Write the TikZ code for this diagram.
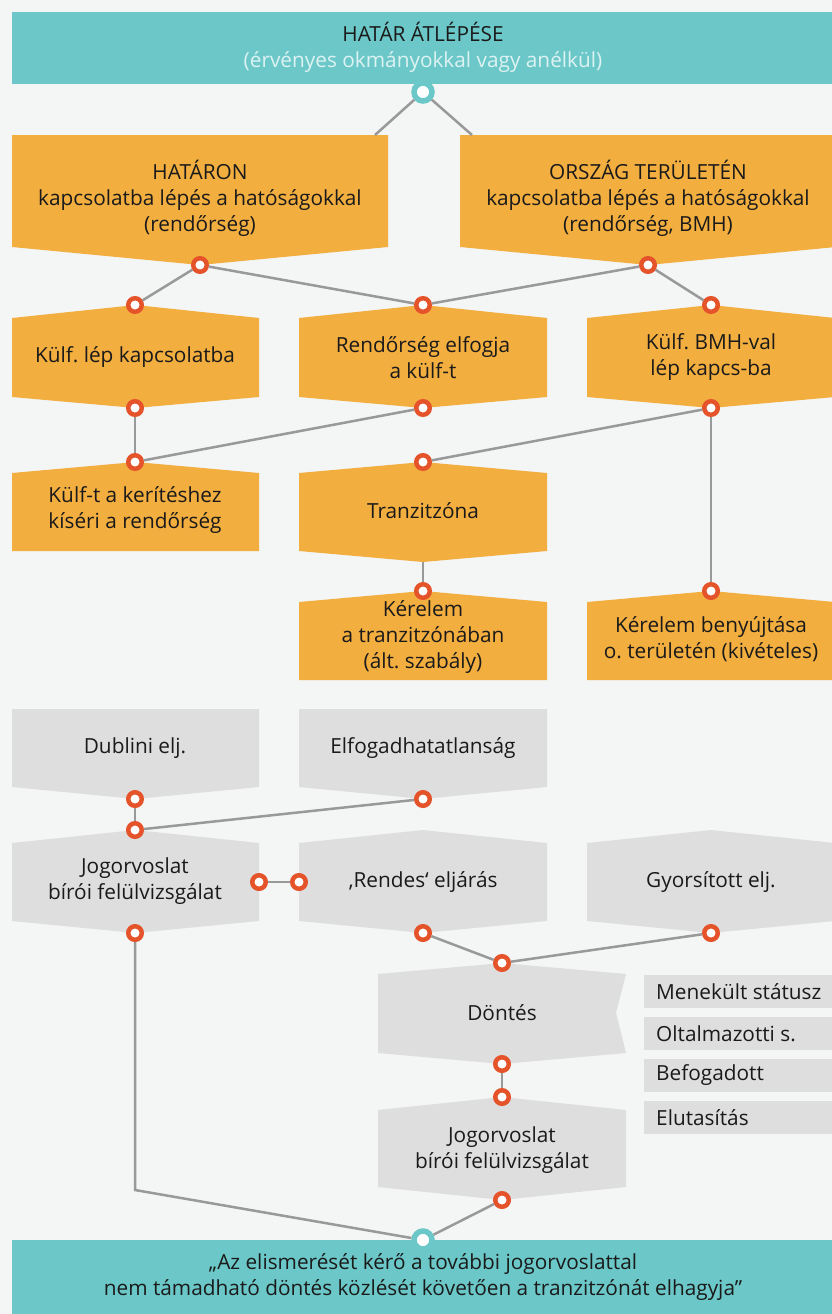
\documentclass[tikz,border=0pt]{standalone}
\usepackage{fontspec}
\setmainfont{Open Sans}
\frenchspacing
\definecolor{bgc}{HTML}{F4F5F5}
\definecolor{tealc}{HTML}{6CC8C8}
\definecolor{orc}{HTML}{F3AE40}
\definecolor{grc}{HTML}{DEDEDE}
\definecolor{dotc}{HTML}{E5532B}
\definecolor{linec}{HTML}{999999}
\definecolor{txtc}{HTML}{1A1A1A}
\definecolor{palec}{HTML}{DDF2F2}
\newcommand\pbox[7]{% color, L, R, top sides, peak rise, bottom sides, bottom drop
  \fill[#1] (#2,#4) -- ({(#2+#3)/2},#4-#5) -- (#3,#4) -- (#3,#6) -- ({(#2+#3)/2},#6+#7) -- (#2,#6) -- cycle;}
\begin{document}
\begin{tikzpicture}[x=1pt,y=-1pt,
  txt/.style={align=center, text=txtc, inner sep=0pt, font=\fontsize{20.8}{26}\selectfont},
  ltxt/.style={text=txtc, inner sep=0pt, font=\fontsize{20.8}{26}\selectfont, anchor=west},
  dot/.style={circle, draw=dotc, line width=4.5pt, fill=white, minimum size=13.5pt, inner sep=0pt},
  tdot/.style={circle, draw=tealc, line width=5.5pt, fill=white, minimum size=18pt, inner sep=0pt},
  conn/.style={draw=linec, line width=2.5pt}]
\useasboundingbox (0,0) rectangle (832,1314);
\fill[bgc] (0,0) rectangle (832,1314);
% banners
\fill[tealc] (12,12) rectangle (832,84);
\fill[tealc] (12,1240) rectangle (832,1314);
% orange boxes
\pbox{orc}{12}{388}{135}{0}{247}{18}
\pbox{orc}{460}{836}{135}{0}{247}{18}
\pbox{orc}{12}{259}{318}{13}{397}{11}
\pbox{orc}{299}{547}{318}{13}{397}{11}
\pbox{orc}{587}{835}{318}{13}{397}{11}
\pbox{orc}{12}{259}{473}{11}{551}{0}
\pbox{orc}{299}{547}{473}{11}{551}{11}
\pbox{orc}{299}{547}{602}{11}{680}{0}
\pbox{orc}{587}{835}{602}{11}{680}{0}
% gray boxes
\pbox{grc}{12}{259}{709}{0}{787}{12}
\pbox{grc}{299}{547}{709}{0}{787}{12}
\pbox{grc}{12}{259}{843}{13}{921}{12}
\pbox{grc}{299}{547}{843}{13}{921}{12}
\pbox{grc}{587}{835}{843}{13}{921}{12}
\fill[grc] (378,974) -- (502,963) -- (626,974) -- (616,1013) -- (626,1053) -- (502,1064) -- (378,1053) -- cycle;
\pbox{grc}{378}{626}{1110}{13}{1187}{13}
\fill[grc] (644,975) rectangle (832,1008);
\fill[grc] (644,1017) rectangle (832,1050);
\fill[grc] (644,1059) rectangle (832,1092);
\fill[grc] (644,1101) rectangle (832,1134);
% texts
\node[txt] (tt) at (423,47.5) {HATÁR ÁTLÉPÉSE\\\textcolor{palec}{(érvényes okmányokkal vagy anélkül)}};
\node[txt] (n1) at (200,198) {HATÁRON\\kapcsolatba lépés a hatóságokkal\\(rendőrség)};
\node[txt] (n2) at (648,198) {ORSZÁG TERÜLETÉN\\kapcsolatba lépés a hatóságokkal\\(rendőrség, BMH)};
\node[txt] (n3) at (135,357) {Külf. lép kapcsolatba};
\node[txt] (n4) at (423,357.5) {Rendőrség elfogja\\a külf-t};
\node[txt] (n5) at (711,357.5) {Külf. BMH-val\\lép kapcs-ba};
\node[txt] (n6) at (135,510.5) {Külf-t a kerítéshez\\kíséri a rendőrség};
\node[txt] (n7) at (423,511) {Tranzitzóna};
\node[txt] (n8) at (423,637) {Kérelem\\a tranzitzónában\\(ált. szabály)};
\node[txt] (n9) at (711,639.5) {Kérelem benyújtása\\o. területén (kivételes)};
\node[txt] (g1) at (135,748) {Dublini elj.};
\node[txt] (g2) at (423,748) {Elfogadhatatlanság};
\node[txt] (g3) at (135,881.5) {Jogorvoslat\\bírói felülvizsgálat};
\node[txt] (g4) at (423,882) {‚Rendes‘ eljárás};
\node[txt] (g5) at (711,882) {Gyorsított elj.};
\node[txt] (g6) at (502,1013) {Döntés};
\node[txt] (g7) at (502,1150.5) {Jogorvoslat\\bírói felülvizsgálat};
\node[ltxt] (l1) at (656,991.5) {Menekült státusz};
\node[ltxt] (l2) at (656,1033.5) {Oltalmazotti s.};
\node[ltxt] (l3) at (656,1075.5) {Befogadott};
\node[ltxt] (l4) at (656,1117.5) {Elutasítás};
\node[txt] (bt) at (423,1277.5) {„Az elismerését kérő a további jogorvoslattal\\nem támadható döntés közlését követően a tranzitzónát elhagyja”};
% dots
\node[tdot] (ttop) at (423,92) {};
\node[tdot] (tbot) at (423,1240) {};
\coordinate (e1) at (375,135);
\coordinate (e2) at (472,135);
\coordinate (cl) at (135,1190);
\node[dot] (d1) at (200,265) {};
\node[dot] (d2) at (648,265) {};
\node[dot] (d3) at (135,305) {};
\node[dot] (d4) at (423,305) {};
\node[dot] (d5) at (711,305) {};
\node[dot] (d6) at (135,408) {};
\node[dot] (d7) at (423,408) {};
\node[dot] (d8) at (711,408) {};
\node[dot] (d9) at (135,462) {};
\node[dot] (d10) at (423,462) {};
\coordinate (tz) at (423,562);
\node[dot] (d11) at (423,591) {};
\node[dot] (d12) at (711,591) {};
\node[dot] (d13) at (135,799) {};
\node[dot] (d14) at (423,799) {};
\node[dot] (d15) at (135,830) {};
\node[dot] (d16) at (259,882) {};
\node[dot] (d17) at (299,882) {};
\node[dot] (d18) at (135,933) {};
\node[dot] (d19) at (423,933) {};
\node[dot] (d20) at (711,933) {};
\node[dot] (d21) at (502,963) {};
\node[dot] (d22) at (502,1064) {};
\node[dot] (d23) at (502,1097) {};
\node[dot] (d24) at (502,1200) {};
% connectors
\draw[conn] (ttop) -- (e1);
\draw[conn] (ttop) -- (e2);
\draw[conn] (d1) -- (d3);
\draw[conn] (d1) -- (d4);
\draw[conn] (d2) -- (d4);
\draw[conn] (d2) -- (d5);
\draw[conn] (d6) -- (d9);
\draw[conn] (d7) -- (d9);
\draw[conn] (d8) -- (d10);
\draw[conn] (d8) -- (d12);
\draw[conn] (tz) -- (d11);
\draw[conn] (d13) -- (d15);
\draw[conn] (d14) -- (d15);
\draw[conn] (d16) -- (d17);
\draw[conn] (d19) -- (d21);
\draw[conn] (d20) -- (d21);
\draw[conn] (d22) -- (d23);
\draw[conn] (d18) -- (cl) -- (tbot);
\draw[conn] (d24) -- (tbot);
\end{tikzpicture}
\end{document}
